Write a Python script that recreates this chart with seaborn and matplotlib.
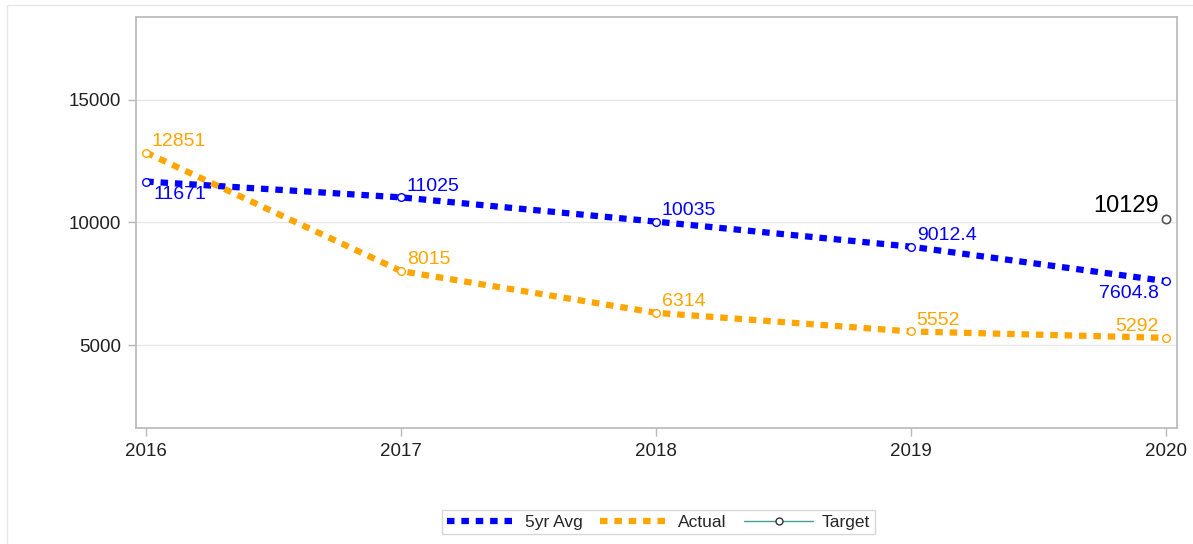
import matplotlib
matplotlib.use("Agg")
import matplotlib.pyplot as plt
import seaborn as sns
import pandas as pd
from matplotlib.lines import Line2D
from matplotlib.patches import Rectangle

years = [2016, 2017, 2018, 2019, 2020]
avg5 = [11671, 11025, 10035, 9012.4, 7604.8]
actual = [12851, 8015, 6314, 5552, 5292]
avg5_labels = ["11671", "11025", "10035", "9012.4", "7604.8"]
actual_labels = ["12851", "8015", "6314", "5552", "5292"]
target_year = [2020]
target = [10129]
target_labels = ["10129"]
yticks = [5000, 10000, 15000]

sns.set_theme(style="white")
plt.rcParams['font.family'] = ['Liberation Sans', 'DejaVu Sans']

BLUE = "#0000FF"
ORANGE = "#FFA500"
TEAL = "#4A9A96"
GRAY = "#555555"

fig = plt.figure(figsize=(11.93, 5.44), dpi=100)
ax = fig.add_axes([0.114, 0.2132, 0.8726, 0.7556])

df_avg = pd.DataFrame({"year": years, "value": avg5})
df_act = pd.DataFrame({"year": years, "value": actual})
df_tgt = pd.DataFrame({"year": target_year, "value": target})

lw = 4.5
sns.lineplot(data=df_avg, x="year", y="value", ax=ax, color=BLUE, linewidth=lw,
             linestyle=(0, (1.2, 1.1)), marker="o", markersize=5.5,
             markerfacecolor="white", markeredgecolor=BLUE, markeredgewidth=1, zorder=3)
sns.lineplot(data=df_act, x="year", y="value", ax=ax, color=ORANGE, linewidth=lw,
             linestyle=(0, (1.2, 1.1)), marker="o", markersize=5.5,
             markerfacecolor="white", markeredgecolor=ORANGE, markeredgewidth=1, zorder=3)
sns.scatterplot(data=df_tgt, x="year", y="value", ax=ax, s=36, marker="o",
                facecolor="white", edgecolor=GRAY, linewidth=1.2, zorder=4)

fs = 14
# 5yr Avg labels
for i, (x, y, t) in enumerate(zip(years, avg5, avg5_labels)):
    if i == 0:
        ax.annotate(t, (x, y), xytext=(5, -3), textcoords="offset points",
                    ha="left", va="top", color=BLUE, fontsize=fs)
    elif i == len(years) - 1:
        ax.annotate(t, (x, y), xytext=(-5, -3), textcoords="offset points",
                    ha="right", va="top", color=BLUE, fontsize=fs)
    else:
        ax.annotate(t, (x, y), xytext=(4, 2), textcoords="offset points",
                    ha="left", va="bottom", color=BLUE, fontsize=fs)
# Actual labels
for i, (x, y, t) in enumerate(zip(years, actual, actual_labels)):
    if i == len(years) - 1:
        ax.annotate(t, (x, y), xytext=(-5, 2), textcoords="offset points",
                    ha="right", va="bottom", color=ORANGE, fontsize=fs)
    else:
        ax.annotate(t, (x, y), xytext=(4, 2), textcoords="offset points",
                    ha="left", va="bottom", color=ORANGE, fontsize=fs)
for x, y, t in zip(target_year, target, target_labels):
    ax.annotate(t, (x, y), xytext=(-5, 2), textcoords="offset points",
                ha="right", va="bottom", color="black", fontsize=17)

ax.set_xlim(2015.96, 2020.043)
ax.set_ylim(1612, 18388)
ax.set_xticks(years)
ax.set_xticklabels([str(y) for y in years])
ax.set_yticks(yticks)
ax.set_yticklabels([str(v) for v in yticks])
ax.set_xlabel("")
ax.set_ylabel("")
ax.grid(axis="y", color="#e6e6e6", linewidth=1)
ax.grid(axis="x", visible=False)
ax.set_axisbelow(True)
for s in ax.spines.values():
    s.set_color("#b8b8b8")
    s.set_linewidth(1.2)
ax.tick_params(axis="both", which="both", length=6, width=1, color="#b8b8b8",
               labelsize=13.5, labelcolor="#222222", pad=5, direction="out",
               left=True, bottom=True)

handles = [
    Line2D([0], [0], color=BLUE, linewidth=lw, linestyle=(0, (1.2, 1.1))),
    Line2D([0], [0], color=ORANGE, linewidth=lw, linestyle=(0, (1.2, 1.1))),
    Line2D([0], [0], color=TEAL, linewidth=1, marker="o", markersize=5,
           markerfacecolor="white", markeredgecolor="#333333"),
]
leg = fig.legend(handles, ["5yr Avg", "Actual", "Target"], loc="center",
                 bbox_to_anchor=(0.552, 0.04), ncol=3, frameon=True, fontsize=12.5,
                 handlelength=4.0, columnspacing=1.0, handletextpad=0.5,
                 borderpad=0.25, fancybox=False)
leg.get_frame().set_edgecolor("#cccccc")
leg.get_frame().set_linewidth(1)

fig.patches.append(Rectangle((0.006, -0.1), 1.2, 1.09, transform=fig.transFigure,
                             fill=False, edgecolor="#e6e6e6", linewidth=1))

fig.savefig("out.png", dpi=100)
